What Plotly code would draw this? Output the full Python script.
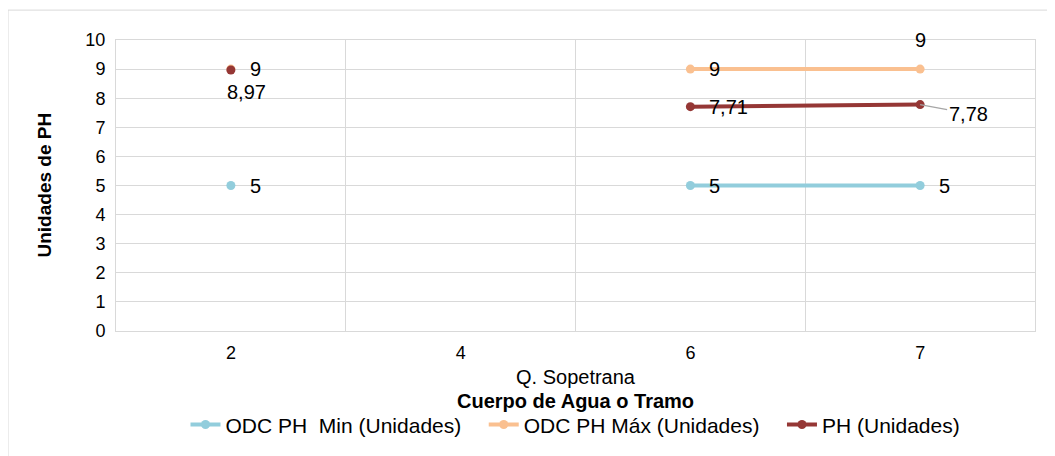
import plotly.graph_objects as go

categories = ["2", "4", "6", "7"]
group_label = "Q. Sopetrana"
odc_min = [5, None, 5, 5]
odc_max = [9, None, 9, 9]
ph = [8.97, None, 7.71, 7.78]
y_ticks = list(range(0, 11))

def fmt(v):
    return ("%g" % v).replace(".", ",")

FONT = "Liberation Sans, Arial, sans-serif"
c_min = "#92CDDC"
c_max = "#FAC090"
c_ph = "#953735"

# figure geometry (page has 8px body margin)
W, H = 1047, 448
ML, MR, MT, MB = 108, 20, 32, 124
PW = W - ML - MR
PH_ = H - MT - MB

PAD = "&nbsp;&nbsp;&nbsp;"
series = [
    ("ODC PH&nbsp; Min (Unidades)" + PAD, odc_min, c_min),
    ("ODC PH Máx (Unidades)" + PAD, odc_max, c_max),
    ("PH (Unidades)", ph, c_ph),
]

fig = go.Figure()
for name, vals, col in series:
    fig.add_trace(go.Scatter(
        x=categories, y=vals, mode="lines+markers", name=name,
        line=dict(color=col, width=4), marker=dict(color=col, size=9),
        connectgaps=False,
    ))

# label placement per series/point
placement = {
    0: ["right"] * 4,
    1: ["right", "right", "right", "above"],
    2: ["below", "right", "right", "leader"],
}
annotations = []
lab_font = dict(size=20, color="#000", family=FONT)
for si, (name, vals, col) in enumerate(series):
    for i, v in enumerate(vals):
        if v is None:
            continue
        p = placement[si][i]
        base = dict(x=i, y=v, xref="x", yref="y", text=fmt(v), font=lab_font)
        if p == "right":
            base.update(showarrow=False, xanchor="left", yanchor="middle", xshift=17)
        elif p == "above":
            base.update(showarrow=False, xanchor="center", yanchor="middle", yshift=29)
        elif p == "below":
            base.update(showarrow=False, xanchor="center", yanchor="middle", yshift=-22, xshift=16)
        elif p == "leader":
            base.update(showarrow=True, arrowhead=0, arrowwidth=1.2, arrowcolor="#A6A6A6",
                        ax=48, ay=9)
        annotations.append(base)

title_font = dict(size=20, color="#000", family=FONT)
annotations += [
    dict(x=0.5, y=-0.158, xref="paper", yref="paper", text=group_label,
         showarrow=False, yanchor="middle", font=title_font),
    dict(x=0.5, y=-0.24, xref="paper", yref="paper", text="<b>Cuerpo de Agua o Tramo</b>",
         showarrow=False, yanchor="middle", font=title_font),
    dict(x=(36 - ML) / PW, y=0.5, xref="paper", yref="paper", text="<b>Unidades de PH</b>",
         showarrow=False, textangle=-90, xanchor="center", yanchor="middle",
         font=dict(size=19, color="#000", family=FONT)),
]

shapes = [
    dict(type="rect", xref="paper", yref="paper",
         x0=(0 - ML) / PW, x1=(W + 20 - ML) / PW,
         y0=(PH_ + 2 - (H + 20 - MT)) / PH_, y1=(PH_ + MT - 2) / PH_,
         line=dict(color="#D9D9D9", width=1), fillcolor="rgba(0,0,0,0)", layer="below"),
]

fig.update_layout(
    width=W, height=H,
    margin=dict(l=ML, r=MR, t=MT, b=MB),
    paper_bgcolor="white", plot_bgcolor="white",
    font=dict(family=FONT, size=19, color="#000"),
    showlegend=True,
    legend=dict(orientation="h", x=0.5, xanchor="center", y=-0.318, yanchor="middle",
                font=dict(size=21, color="#000", family=FONT), itemwidth=30,
                traceorder="normal"),
    annotations=annotations,
    shapes=shapes,
    xaxis=dict(type="category", categoryorder="array", categoryarray=categories,
               range=[-0.5, 3.5], tickson="boundaries", showgrid=True,
               gridcolor="#D9D9D9", gridwidth=1, showline=True, linecolor="#D9D9D9",
               mirror=True, ticks="", ticklabelstandoff=5,
               tickfont=dict(size=18, color="#000", family=FONT), zeroline=False),
    yaxis=dict(range=[0, 10], tickvals=y_ticks, showgrid=True, gridcolor="#D9D9D9",
               gridwidth=1, showline=True, linecolor="#D9D9D9", mirror=True,
               ticks="outside", ticklen=6, tickcolor="rgba(0,0,0,0)",
               tickfont=dict(size=18, color="#000", family=FONT), zeroline=False),
)

fig.write_html("out.html")
